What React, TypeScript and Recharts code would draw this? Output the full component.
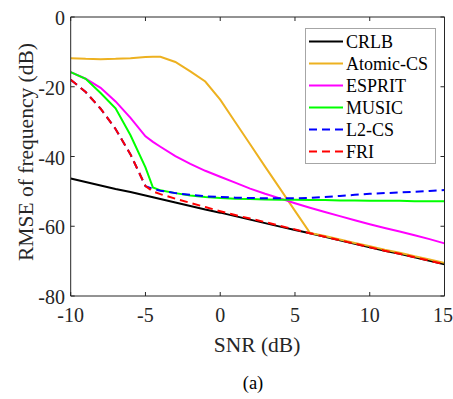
import React from 'react';
import { LineChart, Line, XAxis, YAxis } from 'recharts';

// SNR sweep (dB); -4.5 is the extra point where the subspace methods break down
const SNR = [-10, -9, -8, -7, -6, -5, -4.5, -4, -3, -2, -1, 0, 1, 2, 3, 4, 5, 6, 7, 8, 9, 10, 11, 12, 13, 14, 15];

// RMSE of frequency (dB) per method
const CRLB = [-46.3, -47.3, -48.3, -49.3, -50.2, -51.2, -51.7, -52.2, -53.2, -54.2, -55.2, -56.1, -57.1, -58.1, -59.1, -60.1, -61.1, -62.0, -63.0, -64.0, -65.0, -66.0, -67.0, -67.9, -68.9, -69.9, -70.9];
const ATOMIC_CS = [-11.8, -12.0, -12.1, -12.0, -11.8, -11.5, -11.4, -11.4, -12.9, -15.6, -18.5, -23.7, -30.1, -36.5, -42.9, -49.2, -55.6, -61.9, -62.8, -63.8, -64.8, -65.7, -66.7, -67.6, -68.6, -69.5, -70.5];
const ESPRIT = [-15.8, -17.7, -20.3, -24.2, -28.9, -34.2, -35.8, -37.2, -39.9, -42.1, -44.1, -45.8, -47.5, -49.2, -50.7, -52.0, -53.4, -54.7, -55.9, -57.1, -58.3, -59.4, -60.5, -61.5, -62.6, -63.7, -64.9];
const MUSIC = [-15.8, -17.7, -21.8, -26.2, -33.9, -43.1, -48.9, -49.7, -50.5, -51.2, -51.6, -51.9, -52.1, -52.2, -52.3, -52.4, -52.4, -52.5, -52.5, -52.6, -52.6, -52.7, -52.7, -52.7, -52.8, -52.8, -52.8];
const L2_CS = [-18.0, -21.5, -26.3, -32.1, -39.4, -48.5, -49.3, -49.8, -50.5, -51.0, -51.4, -51.6, -51.8, -51.9, -52.0, -52.0, -52.0, -51.9, -51.6, -51.3, -51.0, -50.7, -50.5, -50.3, -50.1, -49.9, -49.6];
const FRI = [-18.0, -21.5, -26.3, -32.1, -39.4, -48.5, -50.0, -50.8, -52.1, -53.3, -54.5, -55.7, -56.8, -57.8, -58.8, -59.9, -60.9, -62.0, -63.0, -64.0, -65.0, -66.0, -67.0, -67.9, -68.9, -69.9, -70.9];

const X_TICKS = [-10, -5, 0, 5, 10, 15];
const Y_TICKS = [-80, -60, -40, -20, 0];

const data = SNR.map((snr, i) => ({
  snr,
  crlb: CRLB[i],
  atomic: ATOMIC_CS[i],
  esprit: ESPRIT[i],
  music: MUSIC[i],
  l2cs: L2_CS[i],
  fri: FRI[i],
}));

const series = [
  { key: 'crlb', name: 'CRLB', color: '#000000', dash: undefined },
  { key: 'atomic', name: 'Atomic-CS', color: '#EDB120', dash: undefined },
  { key: 'esprit', name: 'ESPRIT', color: '#FF00FF', dash: undefined },
  { key: 'music', name: 'MUSIC', color: '#00FF00', dash: undefined },
  { key: 'l2cs', name: 'L2-CS', color: '#0000FF', dash: '8 5' },
  { key: 'fri', name: 'FRI', color: '#FF0000', dash: '8 5' },
];

const FONT = 'Times New Roman';
const AXIS = '#262626';

export default function App() {
  return (
    <div style={{ position: 'absolute', left: 0, top: 0, width: 453, height: 399, background: '#fff', fontFamily: FONT }}>
      <LineChart
        width={453}
        height={399}
        data={data}
        margin={{ top: 16, right: 7.5, left: 0, bottom: 63 }}
        style={{ fontFamily: FONT }}
      >
        <XAxis
          xAxisId="bottom"
          dataKey="snr"
          type="number"
          domain={[-10, 15]}
          ticks={X_TICKS}
          allowDataOverflow
          height={40}
          tickSize={-4}
          tickMargin={16}
          stroke={AXIS}
          fontFamily={FONT}
          fontSize={20}
          tick={{ fill: AXIS, fontSize: 20, fontFamily: FONT }}
        />
        <XAxis
          xAxisId="top"
          orientation="top"
          dataKey="snr"
          type="number"
          domain={[-10, 15]}
          ticks={X_TICKS}
          allowDataOverflow
          height={1}
          tickSize={-4}
          tickFormatter={() => ''}
          stroke={AXIS}
        />
        <YAxis
          yAxisId="left"
          type="number"
          domain={[-80, 0]}
          ticks={Y_TICKS}
          allowDataOverflow
          width={70.7}
          tickSize={-4}
          tickMargin={9.7}
          stroke={AXIS}
          fontFamily={FONT}
          fontSize={20}
          tick={{ fill: AXIS, fontSize: 20, fontFamily: FONT, dy: 1 }}
        />
        <YAxis
          yAxisId="right"
          orientation="right"
          type="number"
          domain={[-80, 0]}
          ticks={Y_TICKS}
          allowDataOverflow
          width={1}
          tickSize={-4}
          tickFormatter={() => ''}
          stroke={AXIS}
        />
        {series.map((s) => (
          <Line
            key={s.key}
            xAxisId="bottom"
            yAxisId="left"
            type="linear"
            dataKey={s.key}
            name={s.name}
            stroke={s.color}
            strokeWidth={2}
            strokeDasharray={s.dash}
            dot={false}
            activeDot={false}
            isAnimationActive={false}
          />
        ))}

        {/* axis titles and caption */}
        <text x={257} y={352} textAnchor="middle" fontFamily={FONT} fontSize={21.5} fill={AXIS}>
          SNR (dB)
        </text>
        <text
          x={33}
          y={152}
          transform="rotate(-90, 33, 152)"
          textAnchor="middle"
          fontFamily={FONT}
          fontSize={21.5}
          fill={AXIS}
        >
          RMSE of frequency (dB)
        </text>
        <text x={253} y={389} textAnchor="middle" fontFamily={FONT} fontSize={18.5} fill="#000">
          (a)
        </text>

        {/* legend box, top right inside the axes */}
        <g transform="translate(305, 28)" fontFamily={FONT}>
          <rect x={0.5} y={0.5} width={130} height={135} fill="#fff" stroke="#a6a6a6" />
          {series.map((s, i) => {
            const y = 13.5 + i * 22;
            return (
              <g key={s.key}>
                <line x1={4} x2={38} y1={y} y2={y} stroke={s.color} strokeWidth={2} strokeDasharray={s.dash} />
                <text x={41} y={y + 6} fontFamily={FONT} fontSize={18} fill="#000">
                  {s.name}
                </text>
              </g>
            );
          })}
        </g>
      </LineChart>
    </div>
  );
}
